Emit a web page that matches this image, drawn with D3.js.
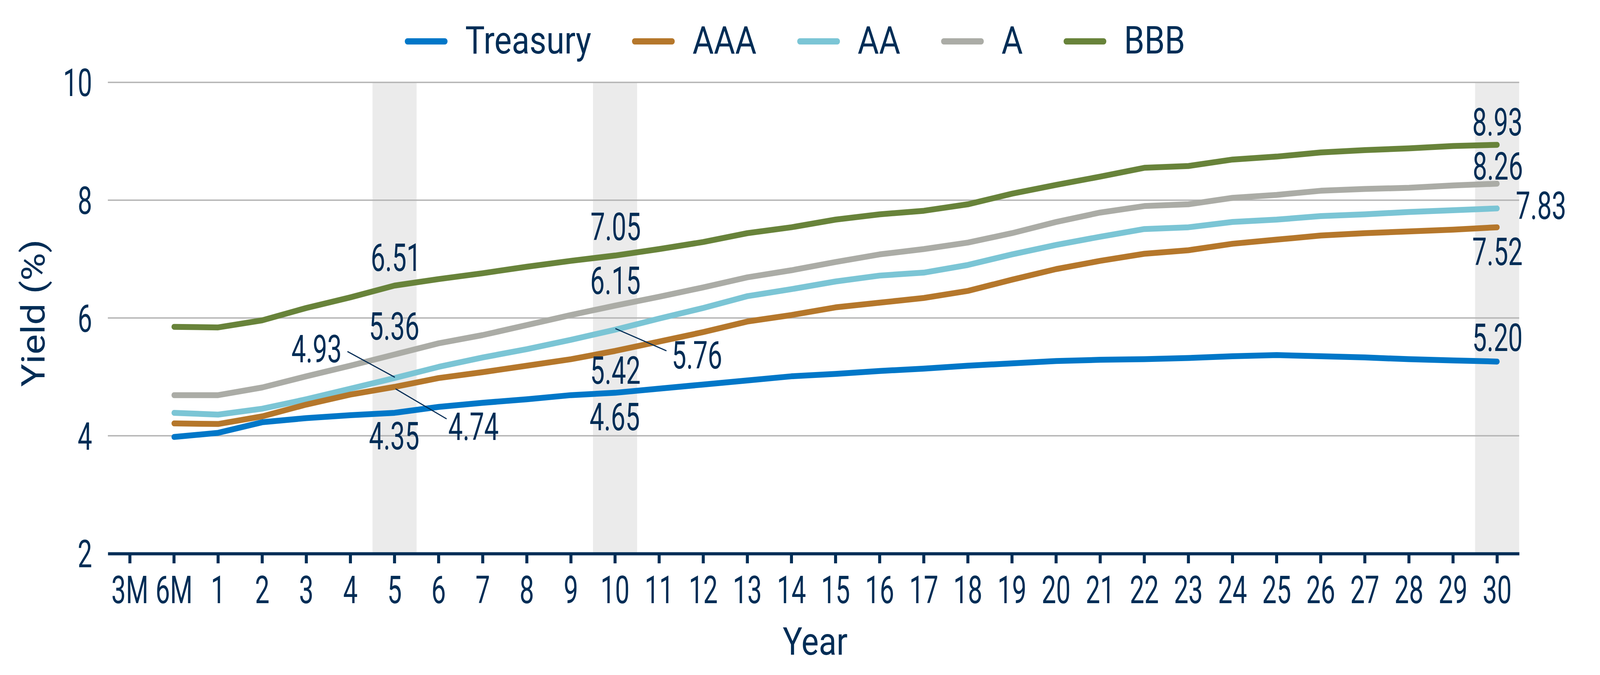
<!DOCTYPE html>
<html>
<head>
<meta charset="utf-8">
<script src="https://cdn.jsdelivr.net/npm/d3@7"></script>
<style>
  html, body { margin: 0; padding: 0; background: #ffffff; overflow: hidden; }
  svg { display: block; width: 100vw; height: 100vh; font-family: Roboto, 'Noto Sans', sans-serif; }
  .axis-text, .label-text, .legend-text, .title-text { fill: #002d56; font-size: 98px; }
</style>
</head>
<body>
<svg id="chart" viewBox="0 0 4792 1729" preserveAspectRatio="none"></svg>
<script>
// Maturities on the x axis
const categories = ['3M', '6M', '1', '2', '3', '4', '5', '6', '7', '8', '9', '10',
  '11', '12', '13', '14', '15', '16', '17', '18', '19', '20',
  '21', '22', '23', '24', '25', '26', '27', '28', '29', '30']

// Yields (%) per maturity, no value at 3M
const treasury = [null, 3.98, 4.05, 4.23, 4.30, 4.35, 4.39, 4.49, 4.56, 4.62, 4.69, 4.73,
  4.80, 4.87, 4.94, 5.01, 5.05, 5.10, 5.14, 5.19, 5.23, 5.27,
  5.29, 5.30, 5.32, 5.35, 5.37, 5.35, 5.33, 5.30, 5.28, 5.26]
const aaa = [null, 4.21, 4.20, 4.33, 4.53, 4.70, 4.83, 4.98, 5.08, 5.19, 5.30, 5.44,
  5.60, 5.76, 5.94, 6.05, 6.18, 6.26, 6.34, 6.46, 6.65, 6.83,
  6.97, 7.09, 7.15, 7.26, 7.33, 7.40, 7.44, 7.47, 7.50, 7.54]
const aa = [null, 4.39, 4.36, 4.46, 4.62, 4.80, 4.98, 5.17, 5.33, 5.47, 5.63, 5.80,
  5.99, 6.17, 6.37, 6.49, 6.62, 6.72, 6.77, 6.90, 7.08, 7.24,
  7.38, 7.51, 7.54, 7.63, 7.67, 7.73, 7.76, 7.80, 7.83, 7.86]
const singleA = [null, 4.69, 4.69, 4.82, 5.01, 5.19, 5.38, 5.57, 5.71, 5.88, 6.05, 6.21,
  6.36, 6.52, 6.69, 6.81, 6.95, 7.08, 7.17, 7.28, 7.44, 7.63,
  7.79, 7.90, 7.93, 8.04, 8.09, 8.16, 8.19, 8.21, 8.25, 8.28]
const bbb = [null, 5.85, 5.84, 5.96, 6.17, 6.35, 6.55, 6.66, 6.76, 6.87, 6.97, 7.06,
  7.17, 7.29, 7.44, 7.54, 7.67, 7.76, 7.82, 7.93, 8.11, 8.26,
  8.40, 8.55, 8.58, 8.69, 8.74, 8.81, 8.85, 8.88, 8.92, 8.94]

const seriesNames = ['Treasury', 'AAA', 'AA', 'A', 'BBB']

// Highlighted maturities and the values printed there
const highlightCategories = ['5', '10', '30']
const treasuryLabels = [4.35, 4.65, 5.20]
const aaaLabels = [4.74, 5.42, 7.52]
const aaLabels = [4.93, 5.76, 7.83]
const singleALabels = [5.36, 6.15, 8.26]
const bbbLabels = [6.51, 7.05, 8.93]

const yTicks = [2, 4, 6, 8, 10]

const colors = ['#0077c8', '#b5772b', '#7bc5d5', '#abaca6', '#68833a']

const series = [
  { name: seriesNames[0], values: treasury, labels: treasuryLabels, color: colors[0] },
  { name: seriesNames[1], values: aaa, labels: aaaLabels, color: colors[1] },
  { name: seriesNames[2], values: aa, labels: aaLabels, color: colors[2] },
  { name: seriesNames[3], values: singleA, labels: singleALabels, color: colors[3] },
  { name: seriesNames[4], values: bbb, labels: bbbLabels, color: colors[4] }
]

// Label placement relative to the line point: [dx, dy, anchor, leader]
const labelLayout = {
  Treasury: [[-1, 94, 'middle'], [-1, 96, 'middle'], [1, -27, 'middle']],
  AAA: [[161, 136, 'start', [3, 5, 156, 82]], [1, 84, 'middle'], [1, 97, 'middle']],
  AA: [[-158, -40, 'end', [-141, -68, 1, -2]], [170, 99, 'start', [1, -3, 154, 54]], [56, 27, 'start']],
  A: [[-1, -38, 'middle'], [1, -30, 'middle'], [2, -10, 'middle']],
  BBB: [[4, -38, 'middle'], [2, -40, 'middle'], [1, -24, 'middle']]
}

const svg = d3.select('#chart')
const plotLeft = 323
const plotRight = 4550
const plotTop = 211
const plotBottom = 1418

const xScale = d3.scaleBand().domain(categories).range([plotLeft, plotRight])
const yScale = d3.scaleLinear().domain([2, 10]).range([plotBottom, plotTop])
const center = (c) => xScale(c) + xScale.bandwidth() / 2

/**
 * Narrows numeric texts so the digits match the condensed figures of the original.
 *
 * @param {*} selection The d3 Selection of text elements
 */
function condense (selection) {
  selection.each(function () {
    const w = this.getComputedTextLength()
    d3.select(this)
      .attr('textLength', w * 0.79)
      .attr('lengthAdjust', 'spacingAndGlyphs')
  })
}

/**
 * Draws the grey bands behind the highlighted maturities.
 */
function drawHighlights () {
  svg.append('g')
    .selectAll('rect')
    .data(highlightCategories)
    .join('rect')
    .attr('x', d => xScale(d))
    .attr('y', yScale(10))
    .attr('width', xScale.bandwidth())
    .attr('height', yScale(2) - yScale(10))
    .attr('fill', '#ebebeb')
}

/**
 * Draws the horizontal grid lines and the y axis labels.
 */
function drawYAxis () {
  svg.append('g')
    .selectAll('line')
    .data(yTicks.filter(d => d > 2))
    .join('line')
    .attr('x1', plotLeft)
    .attr('x2', plotRight)
    .attr('y1', d => yScale(d))
    .attr('y2', d => yScale(d))
    .attr('stroke', '#b4b4b4')
    .attr('stroke-width', 3.5)

  const g = svg.append('g')
    .attr('transform', 'translate(' + plotLeft + ', 0)')
    .call(d3.axisLeft(yScale).tickValues(yTicks).tickSize(0).tickFormat(d3.format('d')))
  g.attr('font-size', null).attr('font-family', null)
  g.select('.domain').remove()
  g.selectAll('text')
    .attr('class', 'axis-text')
    .attr('x', -47)
    .attr('dy', '0.355em')
    .attr('fill', null)
    .call(condense)

  svg.append('text')
    .attr('class', 'title-text')
    .attr('text-anchor', 'middle')
    .attr('transform', 'translate(133, 802) rotate(-90)')
    .text('Yield (%)')
}

/**
 * Draws the x axis at the bottom of the chart.
 */
function drawXAxis () {
  const g = svg.append('g')
    .attr('transform', 'translate(0, ' + plotBottom + ')')
    .call(d3.axisBottom(xScale).tickSize(25).tickSizeOuter(0))
  g.attr('font-size', null).attr('font-family', null)
  g.select('.domain')
    .attr('stroke', '#002d56')
    .attr('stroke-width', 8)
  g.selectAll('.tick line')
    .attr('stroke', '#002d56')
    .attr('stroke-width', 9)
  g.selectAll('.tick text')
    .attr('class', 'axis-text')
    .attr('fill', null)
    .attr('y', 127)
    .attr('dy', null)
    .call(condense)

  svg.append('text')
    .attr('class', 'title-text')
    .attr('text-anchor', 'middle')
    .attr('x', (plotLeft + plotRight) / 2 + 5)
    .attr('y', 1677)
    .text('Year')
}

/**
 * Draws one line per rating.
 */
function drawLines () {
  const line = d3.line()
    .defined(d => d.v != null)
    .x(d => center(d.c))
    .y(d => yScale(d.v))

  svg.append('g')
    .selectAll('path')
    .data(series.slice().reverse())
    .join('path')
    .attr('d', s => line(categories.map((c, i) => ({ c: c, v: s.values[i] }))))
    .attr('fill', 'none')
    .attr('stroke', s => s.color)
    .attr('stroke-width', 15)
    .attr('stroke-linecap', 'round')
    .attr('stroke-linejoin', 'round')
}

/**
 * Writes the values at the highlighted maturities, with leader lines.
 */
function drawLabels () {
  const g = svg.append('g')
  series.forEach(s => {
    highlightCategories.forEach((c, k) => {
      const px = center(c)
      const py = yScale(s.values[categories.indexOf(c)])
      const lay = labelLayout[s.name][k]
      if (lay[3]) {
        g.append('line')
          .attr('x1', px + lay[3][0])
          .attr('y1', py + lay[3][1])
          .attr('x2', px + lay[3][2])
          .attr('y2', py + lay[3][3])
          .attr('stroke', '#002d56')
          .attr('stroke-width', 3)
      }
      g.append('text')
        .attr('class', 'label-text')
        .attr('x', px + lay[0])
        .attr('y', py + lay[1])
        .attr('text-anchor', lay[2])
        .text(d3.format('.2f')(s.labels[k]))
        .call(condense)
    })
  })
}

/**
 * Draws the legend centred above the chart.
 */
function drawLegend () {
  const g = svg.append('g')
  let x = 0
  series.forEach(s => {
    const item = g.append('g').attr('transform', 'translate(' + x + ', 0)')
    item.append('line')
      .attr('x1', 8)
      .attr('x2', 120)
      .attr('y1', 106)
      .attr('y2', 106)
      .attr('stroke', s.color)
      .attr('stroke-width', 16)
      .attr('stroke-linecap', 'round')
    const t = item.append('text')
      .attr('class', 'legend-text')
      .attr('x', 181)
      .attr('y', 137)
      .text(s.name)
    x += 181 + t.node().getComputedTextLength() + 122
  })
  const total = x - 122
  g.attr('transform', 'translate(' + (2381 - total / 2) + ', 0)')
}

drawHighlights()
drawYAxis()
drawXAxis()
drawLines()
drawLabels()
drawLegend()
</script>
</body>
</html>
